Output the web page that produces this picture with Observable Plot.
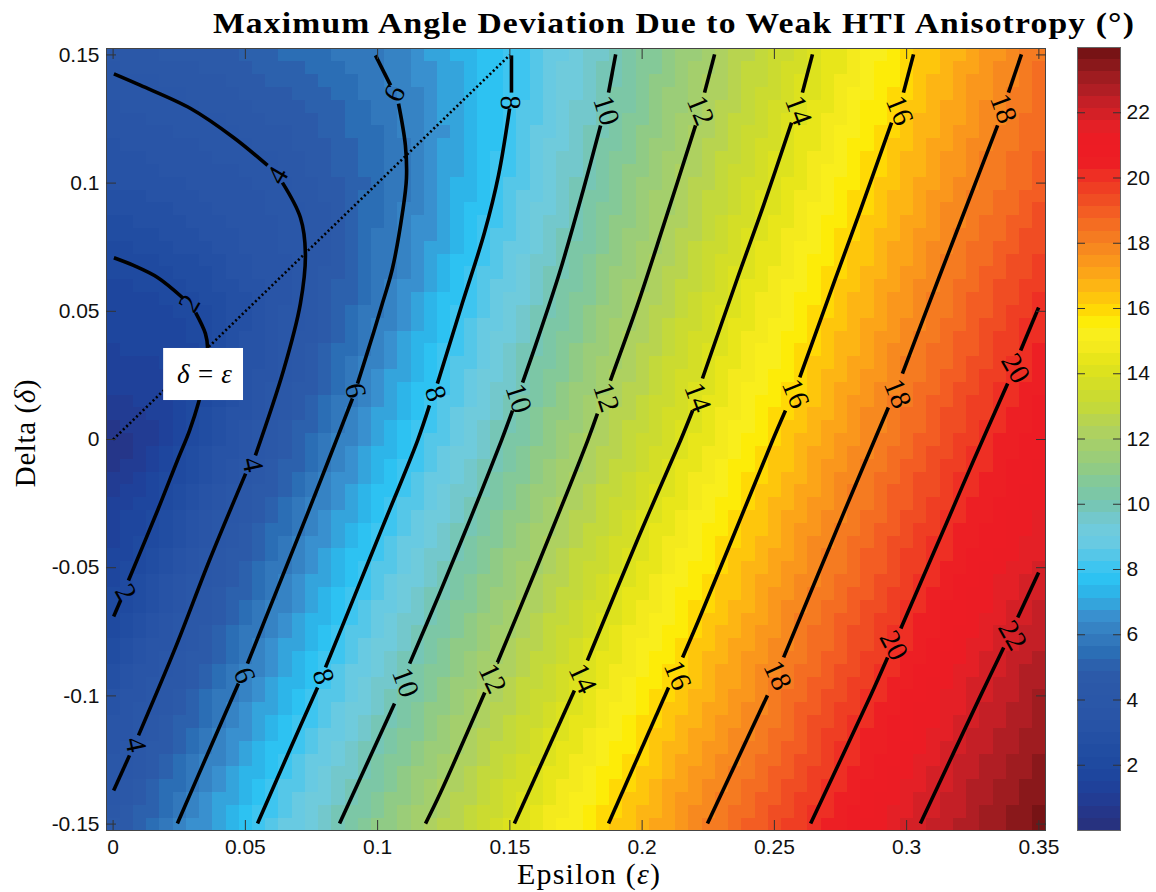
<!DOCTYPE html>
<html>
<head>
<meta charset="utf-8">
<script src="https://cdn.jsdelivr.net/npm/d3@7"></script>
<script src="https://cdn.jsdelivr.net/npm/@observablehq/plot@0.6"></script>
<style>
  html, body { margin: 0; padding: 0; background: #fff; }
  #page { position: relative; width: 1156px; height: 892px; overflow: hidden; }
  #page svg { position: absolute; background: transparent; }
  .t { position: absolute; font-family: "Liberation Serif", serif; color: #000; white-space: nowrap; }
</style>
</head>
<body>
<div id="page">
  <div class="t" id="title" style="left:213px;top:6px;font-size:30px;font-weight:bold;letter-spacing:1.03px;transform-origin:left center;transform:scaleX(1.12);">Maximum Angle Deviation Due to Weak HTI Anisotropy (°)</div>
  <div class="t" id="xlabel" style="left:517px;top:857px;font-size:30px;letter-spacing:1.2px;">Epsilon (<i>ε</i>)</div>
  <div class="t" id="ylabel" style="left:25px;top:433px;font-size:29px;letter-spacing:0.6px;transform:translate(-50%,-50%) rotate(-90deg);">Delta (<i>δ</i>)</div>
</div>
<script>
// Contour lines: [epsilon, delta], one sub-list per stretch between labels.
const contour2 = [
  [[.0003,.0709],[.0077,.0679],[.0168,.0632],[.0266,.0550]],
  [[.0312,.0495],[.0349,.0413],[.0357,.0359],[.0346,.0250],[.0323,.0144],[.0289,.0035],[.0243,-.0082],[.0168,-.0277],[.0058,-.0550]],
  [[.0028,-.0628],[.0002,-.0690]]
];
const contour4 = [
  [[.0003,.1426],[.0104,.1381],[.0293,.1291],[.0455,.1178],[.0584,.1069]],
  [[.0640,.1002],[.0708,.0866],[.0727,.0725],[.0708,.0530],[.0644,.0269],[.0538,-.0062]],
  [[.0501,-.0133],[.0364,-.0472],[.0236,-.0811],[.0096,-.1154]],
  [[.0062,-.1232],[.0002,-.1369]]
];
const contour6 = [
  [[.0992,.1498],[.1049,.1381]],
  [[.1079,.1310],[.1105,.1147],[.1109,.1018],[.1094,.0885],[.1056,.0667],[.1019,.0534],[.0973,.0378],[.0924,.0218]],
  [[.0905,.0160],[.0814,-.0082],[.0735,-.0289],[.0629,-.0562],[.0508,-.0874]],
  [[.0474,-.0952],[.0368,-.1201],[.0243,-.1498]]
];
const contour8 = [
  [[.1506,.1498],[.1506,.1353]],
  [[.1499,.1291],[.1457,.1030],[.1404,.0807],[.1321,.0534],[.1226,.0218]],
  [[.1196,.0133],[.1151,-.0004],[.1018,-.0343],[.0926,-.0577],[.0803,-.0889]],
  [[.0773,-.0967],[.0667,-.1213],[.0546,-.1498]]
];
const contour10 = [
  [[.1900,.1502],[.1873,.1353]],
  [[.1843,.1225],[.1779,.0979],[.1688,.0651],[.1597,.0367],[.1548,.0222]],
  [[.1510,.0113],[.1468,-.0004],[.1389,-.0211],[.1317,-.0394],[.1234,-.0601],[.1121,-.0874]],
  [[.1064,-.1030],[.0856,-.1498]]
];
const contour12 = [
  [[.2274,.1502],[.2236,.1353]],
  [[.2202,.1225],[.2081,.0835],[.1982,.0523],[.1880,.0230]],
  [[.1831,.0101],[.1794,-.0004],[.1597,-.0511],[.1453,-.0870]],
  [[.1405,-.0987],[.1238,-.1377],[.1181,-.1498]]
];
const contour14 = [
  [[.2644,.1502],[.2606,.1353]],
  [[.2565,.1236],[.2459,.0913],[.2360,.0628],[.2228,.0238]],
  [[.2191,.0113],[.2145,-.0004],[.1986,-.0382],[.1793,-.0862]],
  [[.1744,-.0979],[.1517,-.1498]]
];
const contour16 = [
  [[.3026,.1502],[.2988,.1353]],
  [[.2943,.1236],[.2822,.0885],[.2731,.0628],[.2596,.0242]],
  [[.2542,.0113],[.2493,-.0004],[.2338,-.0394],[.2213,-.0706],[.2153,-.0850]],
  [[.2100,-.0967],[.1873,-.1498]]
];
const contour18 = [
  [[.3434,.1502],[.3385,.1353]],
  [[.3344,.1225],[.3223,.0901],[.3121,.0628],[.2984,.0257]],
  [[.2931,.0125],[.2761,-.0289],[.2535,-.0850]],
  [[.2474,-.0998],[.2247,-.1498]]
];
const contour20 = [
  [[.3499,.0515],[.3431,.0347]],
  [[.3382,.0218],[.3253,-.0082],[.3155,-.0316],[.2978,-.0737]],
  [[.2928,-.0850],[.2864,-.0998],[.2637,-.1498]]
];
const contour22 = [
  [[.3499,-.0519],[.3420,-.0694]],
  [[.3367,-.0811],[.3280,-.0998],[.3052,-.1498]]
];
const contourLevels = [2,4,6,8,10,12,14,16,18,20,22];
const contourLists = [contour2,contour4,contour6,contour8,contour10,contour12,contour14,contour16,contour18,contour20,contour22];

// Values read away from the contour lines (frame edges and interior): [epsilon, delta, degrees].
const fieldReadings = [
  [-.0025,.1525,4.3],[-.0025,.1,3.0],[-.0025,.03,1.4],[-.0025,0,.5],[-.0025,-.03,1.2],[-.0025,-.069,2],[-.0025,-.1,3],[-.0025,-.137,4],[-.0025,-.1525,4.5],
  [.05,.1525,5],[.1,.1525,6],[.15,.1525,8],[.19,.1525,10],[.2276,.1525,12],[.265,.1525,14],[.303,.1525,16],[.344,.1525,18],[.3525,.1525,18.4],
  [.024,-.1525,6],[.054,-.1525,8],[.085,-.1525,10],[.117,-.1525,12],[.151,-.1525,14],[.187,-.1525,16],[.224,-.1525,18],[.263,-.1525,20],[.304,-.1525,22],[.3525,-.1525,23.9],
  [.3525,.1,19],[.3525,.05,20.2],[.3525,0,21],[.3525,-.05,21.9],[.3525,-.1,23],
  [0,0,.4],[.01,0,.8],[.02,0,1.4],[.02,.03,1.5],[.015,.045,1.7],[.03,.1,3.4],[.04,.08,3.2],[.055,.06,3.3],[.09,.1,5],[.085,.05,5]
];

// Contour labels: level, epsilon, delta, turn.
const labelLevel = [2,2,4,4,4,6,6,6,8,8,8,10,10,10,12,12,12,14,14,14,16,16,16,18,18,18,20,20,22];
const labelEps = [.0289,.0047,.0622,.0527,.0085,.1064,.0916,.0497,.1502,.1219,.0795,.1865,.1533,.1105,.2221,.1865,.1434,.2591,.2210,.1775,.2973,.2580,.2134,.3366,.2966,.2512,.3412,.2951,.3400];
const labelDelta = [.0530,-.0597,.1030,-.0098,-.1190,.1349,.0191,-.0920,.1314,.0179,-.0924,.1283,.0160,-.0948,.1283,.0164,-.0932,.1283,.0164,-.0932,.1283,.0179,-.0920,.1291,.0179,-.0920,.0277,-.0803,-.0764];
const labelTurn = [-60,60,-60,78,78,-65,80,70,88,72,72,72,72,70,68,72,65,70,70,65,68,68,68,70,68,65,60,62,60];

// 64-step colour bar, bottom to top, steps of 0.375 degrees.
const levelColors = ["#27327f","#253689","#223c93","#1f419a","#1e469e","#1f4aa0","#214da2","#2450a4","#2753a6","#2955a7","#2a57a8","#2b58a8","#2c5aa9","#2c61ad","#2b6eb5","#3278bc","#3683c4","#3990cf","#34a4dc","#2db5e9","#2dc2f2","#3ec5f0","#55c7e8","#68cae2","#6fcbdc","#73c8cc","#76c6b6","#7cc7a6","#84c998","#90cb85","#9bcd78","#a4cf6c","#aed160","#b8d44f","#c3d93b","#cbdb30","#d4de26","#dde21e","#e8e61a","#f4ea1d","#f9ee1c","#fdec08","#ffd905","#fec60c","#fdb514","#fca518","#fa971c","#f7891f","#f57b21","#f46d22","#f35d23","#f04d23","#ef3e23","#ee2f24","#ed1f24","#ed1c24","#ec1c24","#e42026","#d42026","#c41f26","#b01e24","#9f1c20","#8a181b","#771315"];
const levelStep = 0.375;

const epsTicks = [0,.05,.1,.15,.2,.25,.3,.35];
const deltaTicks = [-.15,-.1,-.05,0,.05,.1,.15];
const barTicks = [2,4,6,8,10,12,14,16,18,20,22];
const epsRange = [-.0025,.3525];
const deltaRange = [-.1525,.1525];
const barRange = [0,24];
const diagonal = [[0,0],[.15,.15]];
const noteBox = [{e1:.0191,e2:.0493,d1:.0152,d2:.0355}];
const noteText = [{e:.0345,d:.0254,s:"δ = ε"}];

const linePts = contourLists.flatMap((list,i) => list.flatMap((seg,j) =>
  seg.map(([e,d]) => ({e,d,v:contourLevels[i],seg:`${contourLevels[i]}-${j}`}))));
const fieldPts = linePts.concat(fieldReadings.map(([e,d,v]) => ({e,d,v})));
const labels = labelLevel.map((v,i) => ({v,e:labelEps[i],d:labelDelta[i],r:labelTurn[i]}));
const sans = "'Liberation Sans', Arial, sans-serif";
const serif = "'Liberation Serif', serif";

const main = Plot.plot({
  width: 1156, height: 892,
  marginLeft: 106, marginRight: 111, marginTop: 48, marginBottom: 62,
  style: {left: "0px", top: "0px", fontFamily: sans, fontSize: "21px", color: "#111"},
  x: {domain: epsRange, label: null},
  y: {domain: deltaRange, label: null},
  color: {type: "threshold", domain: d3.range(1, levelColors.length).map(k => k*levelStep), range: levelColors},
  marks: [
    Plot.raster(fieldPts, {x:"e", y:"d", fill:"v", interpolate:"barycentric",
      x1:epsRange[0], x2:epsRange[1], y1:deltaRange[0], y2:deltaRange[1],
      width:71, height:61, imageRendering:"pixelated"}),
    Plot.line(diagonal, {x:"0", y:"1", stroke:"#000", strokeWidth:2.6, strokeDasharray:"2 2.6", strokeLinecap:"butt"}),
    Plot.line(linePts, {x:"e", y:"d", z:"seg", stroke:"#000", strokeWidth:3.6, curve:"catmull-rom", strokeLinecap:"butt"}),
    Plot.rect(noteBox, {x1:"e1", x2:"e2", y1:"d1", y2:"d2", fill:"#fff"}),
    Plot.text(noteText, {x:"e", y:"d", text:"s", fontFamily:serif, fontStyle:"italic", fontSize:27, fill:"#000"}),
    Plot.text(labels, {x:"e", y:"d", text:d => String(d.v), rotate:"r", fontFamily:serif, fontSize:29, fill:"#000"}),
    Plot.frame({stroke:"#444", strokeWidth:1}),
    Plot.axisX({anchor:"bottom", ticks:epsTicks, tickSize:-10, text:null, label:null, stroke:"#333"}),
    Plot.axisX({anchor:"top", ticks:epsTicks, tickSize:-10, text:null, label:null, stroke:"#333"}),
    Plot.axisY({anchor:"left", ticks:deltaTicks, tickSize:-10, text:null, label:null, stroke:"#333"}),
    Plot.axisY({anchor:"right", ticks:deltaTicks, tickSize:-10, text:null, label:null, stroke:"#333"}),
    Plot.axisX({anchor:"bottom", ticks:epsTicks, tickSize:0, tickPadding:9, tickFormat:d => String(d), label:null}),
    Plot.axisY({anchor:"left", ticks:deltaTicks, tickSize:0, tickPadding:7, tickFormat:d => String(d), label:null})
  ]
});
document.getElementById("page").appendChild(main);

const bar = Plot.plot({
  width: 96, height: 892,
  marginLeft: 17, marginRight: 36, marginTop: 47, marginBottom: 62,
  style: {left: "1060px", top: "0px", fontFamily: sans, fontSize: "21px", color: "#111"},
  x: {domain: [0,1], axis: null},
  y: {domain: barRange, label: null},
  marks: [
    Plot.rect(levelColors, {x1:() => 0, x2:() => 1, y1:(c,i) => i*levelStep, y2:(c,i) => (i+1)*levelStep, fill:c => c, shapeRendering:"crispEdges"}),
    Plot.frame({stroke:"#666", strokeWidth:1}),
    Plot.axisY({anchor:"left", ticks:barTicks, tickSize:-8, text:null, label:null, stroke:"#333"}),
    Plot.axisY({anchor:"right", ticks:barTicks, tickSize:-8, text:null, label:null, stroke:"#333"}),
    Plot.axisY({anchor:"right", ticks:barTicks, tickSize:0, tickPadding:6, label:null})
  ]
});
document.getElementById("page").appendChild(bar);
</script>
</body>
</html>
